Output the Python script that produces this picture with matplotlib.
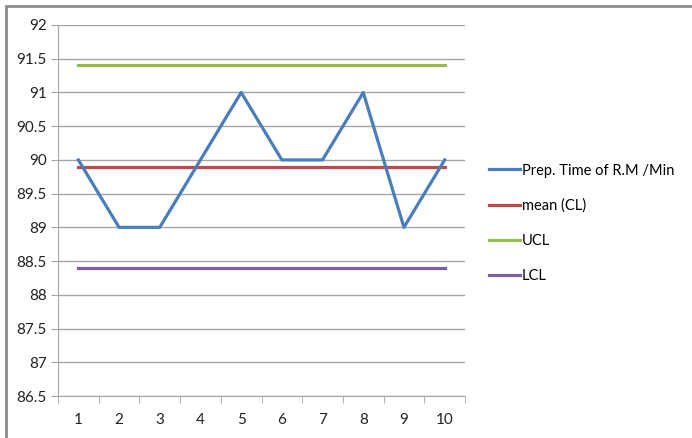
import matplotlib.pyplot as plt

# data
samples = [1, 2, 3, 4, 5, 6, 7, 8, 9, 10]
prep_time = [90, 89, 89, 90, 91, 90, 90, 91, 89, 90]
mean_cl = 89.9
ucl = 91.4
lcl = 88.4
y_ticks = [86.5, 87, 87.5, 88, 88.5, 89, 89.5, 90, 90.5, 91, 91.5, 92]

plt.rcParams['font.family'] = ['Lato', 'DejaVu Sans']

fig = plt.figure(figsize=(6.92, 4.38), dpi=100)
ax = fig.add_axes([58 / 692, 1 - 396 / 438, 407 / 692, 371 / 438])

ax.plot(samples, prep_time, color='#4a7ebb', lw=2.3, label='Prep. Time of R.M /Min', zorder=5)
ax.plot(samples, [mean_cl] * len(samples), color='#be4b48', lw=2.3, label='mean (CL)', zorder=4)
ax.plot(samples, [ucl] * len(samples), color='#98b954', lw=2.3, label='UCL', zorder=4)
ax.plot(samples, [lcl] * len(samples), color='#7d60a0', lw=2.3, label='LCL', zorder=4)

ax.set_xlim(0.5, 10.5)
ax.set_ylim(86.5, 92)
ax.set_yticks(y_ticks)
ax.set_yticklabels(['%g' % v for v in y_ticks])
ax.set_xticks(samples)
ax.set_xticks([i + 0.5 for i in range(0, 11)], minor=True)

ax.grid(axis='y', color='#a6a6a6', lw=1)
ax.set_axisbelow(True)
for s in ['top', 'right']:
    ax.spines[s].set_visible(False)
ax.spines['left'].set_color('#a6a6a6')
ax.spines['bottom'].set_color('#a6a6a6')

ax.tick_params(axis='y', length=5, color='#a6a6a6', labelsize=11, labelcolor='#222222', pad=3)
ax.tick_params(axis='x', which='major', length=0, labelsize=11, labelcolor='#222222', pad=12)
ax.tick_params(axis='x', which='minor', length=5, color='#a6a6a6')

leg = ax.legend(loc='center left', bbox_to_anchor=(1.045, 0.465), frameon=False,
                fontsize=10.5, handlelength=2.1, handletextpad=0.15, labelspacing=1.45,
                borderaxespad=0)

# outer chart border
fig.patches.append(plt.Rectangle((6 / 692, -0.05), 1.1, 1 - 6 / 438 + 0.05,
                                 transform=fig.transFigure, fill=False,
                                 edgecolor='#8c8c8c', lw=2, figure=fig))

fig.savefig('out.png', dpi=100)
